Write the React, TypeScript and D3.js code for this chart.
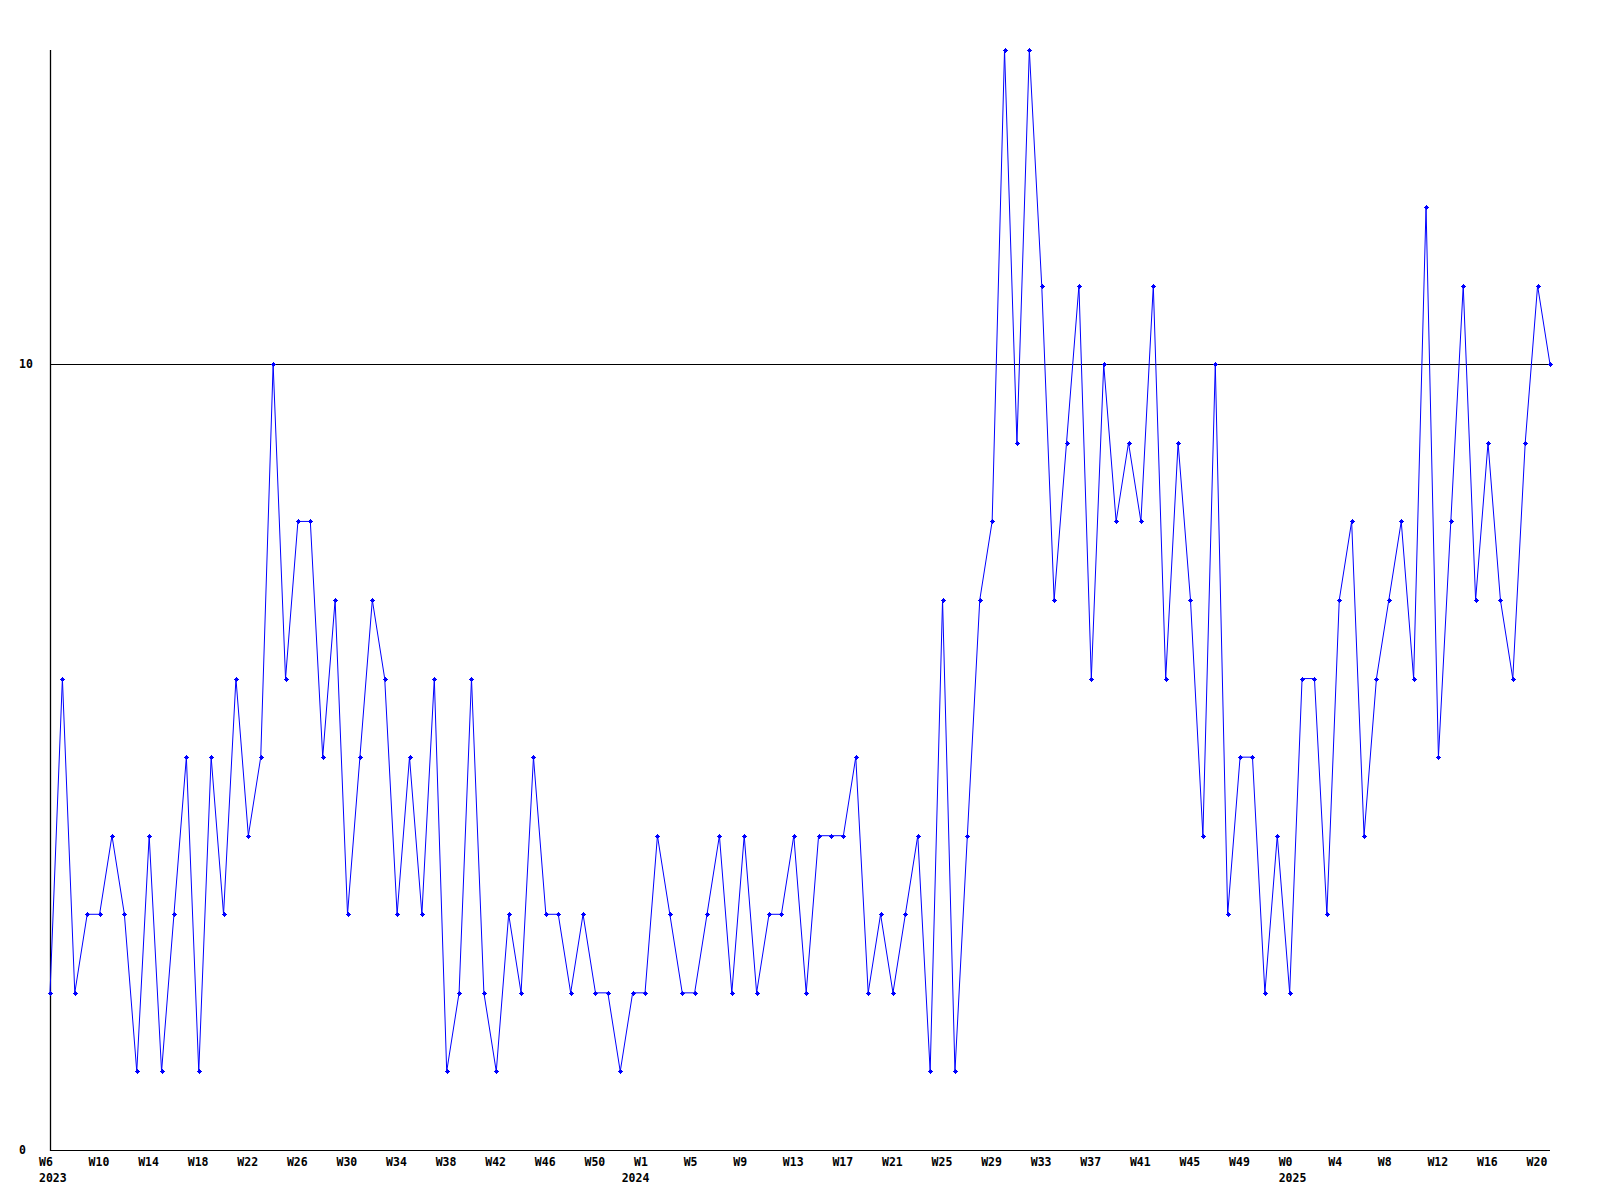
import React from 'react';
import * as d3 from 'd3';

// weekly counts, one per week starting at 2023 W6
const weeklyValues = [
  2, 6, 2, 3, 3, 4, 3, 1, 4, 1,
  3, 5, 1, 5, 3, 6, 4, 5, 10, 6,
  8, 8, 5, 7, 3, 5, 7, 6, 3, 5,
  3, 6, 1, 2, 6, 2, 1, 3, 2, 5,
  3, 3, 2, 3, 2, 2, 1, 2, 2, 4,
  3, 2, 2, 3, 4, 2, 4, 2, 3, 3,
  4, 2, 4, 4, 4, 5, 2, 3, 2, 3,
  4, 1, 7, 1, 4, 7, 8, 14, 9, 14,
  11, 7, 9, 11, 6, 10, 8, 9, 8, 11,
  6, 9, 7, 4, 10, 3, 5, 5, 2, 4,
  2, 6, 6, 3, 7, 8, 4, 6, 7, 8,
  6, 12, 5, 8, 11, 7, 9, 7, 6, 9,
  11, 10,
];

// one label every 4th week
const weekTickLabels = [
  'W6', 'W10', 'W14', 'W18', 'W22', 'W26', 'W30', 'W34', 'W38', 'W42', 'W46', 'W50',
  'W1', 'W5', 'W9', 'W13', 'W17', 'W21', 'W25', 'W29', 'W33', 'W37', 'W41', 'W45', 'W49',
  'W0', 'W4', 'W8', 'W12', 'W16', 'W20',
];
// year label and the week (series position) where that year starts
const yearLabels = ['2023', '2024', '2025'];
const yearStartWeek = [0, 47, 100];
const yTickValues = [0, 10];

const W = 1600;
const H = 1200;
const plot = { left: 50, right: 1550, top: 50, bottom: 1150 };
const font = '"DejaVu Sans Mono", monospace';

const x = d3.scaleLinear().domain([0, weeklyValues.length - 1]).range([plot.left, plot.right]);
const y = d3.scaleLinear().domain([0, 14]).range([plot.bottom, plot.top]);

const line = d3
  .line<number>()
  .x((_, i) => x(i))
  .y(d => y(d));

// small plus-shaped marker
const marker = 'M-2.5,-0.5h5v1h-5z M-0.5,-2.5h1v5h-1z M-1.5,-1.5h3v3h-3z';

export default function App() {
  return (
    <svg
      width={W}
      height={H}
      style={{ position: 'absolute', left: 0, top: 0, background: '#fff' }}
    >
      <rect width={W} height={H} fill="#fff" />

      {/* reference line at 10 */}
      <line
        x1={plot.left}
        x2={plot.right}
        y1={Math.round(y(10)) + 0.5}
        y2={Math.round(y(10)) + 0.5}
        stroke="#000"
        strokeWidth={1}
      />

      {/* axes */}
      <line x1={plot.left + 0.5} x2={plot.left + 0.5} y1={plot.top} y2={plot.bottom + 1} stroke="#000" strokeWidth={1.3} />
      <line x1={plot.left} x2={plot.right} y1={plot.bottom + 0.5} y2={plot.bottom + 0.5} stroke="#000" strokeWidth={1.2} />

      {yTickValues.map(v => (
        <text
          key={v}
          x={19}
          y={y(v)}
          dy="0.35em"
          fontFamily={font}
          fontWeight="bold"
          fontSize={11.5}
          fill="#000"
        >
          {v}
        </text>
      ))}

      {weekTickLabels.map((lab, k) => (
        <text
          key={k}
          x={x(k * 4) - 11}
          y={1166}
          fontFamily={font}
          fontWeight="bold"
          fontSize={11.5}
          fill="#000"
        >
          {lab}
        </text>
      ))}

      {yearLabels.map((yr, k) => (
        <text
          key={yr}
          x={x(yearStartWeek[k]) - 11}
          y={1182}
          fontFamily={font}
          fontWeight="bold"
          fontSize={11.5}
          fill="#000"
        >
          {yr}
        </text>
      ))}

      <path d={line(weeklyValues) ?? ''} fill="none" stroke="#0000ff" strokeWidth={1} />

      {weeklyValues.map((v, i) => (
        <path
          key={i}
          d={marker}
          transform={`translate(${Math.round(x(i)) + 0.5},${Math.round(y(v)) + 0.5})`}
          fill="#0000ff"
          shapeRendering="crispEdges"
        />
      ))}
    </svg>
  );
}
